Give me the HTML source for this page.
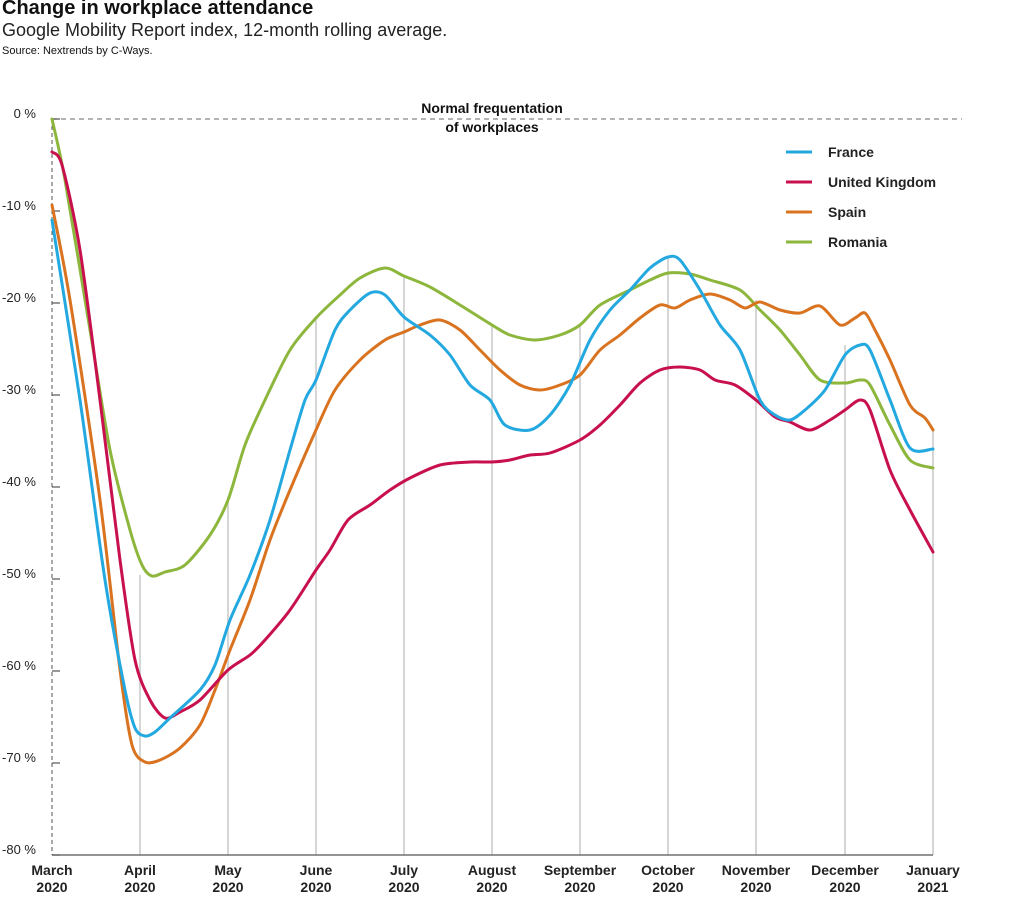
<!DOCTYPE html>
<html><head><meta charset="utf-8"><style>
body{margin:0;background:#fff;width:1020px;height:908px;overflow:hidden;font-family:"Liberation Sans",sans-serif;}
.t{position:absolute;left:2px;white-space:nowrap;color:#111}
</style></head><body>
<div class="t" style="top:-3px;font-size:20px;font-weight:bold;">Change in workplace attendance</div>
<div class="t" style="top:20px;font-size:18px;color:#222">Google Mobility Report index, 12-month rolling average.</div>
<div class="t" style="top:45px;font-size:11px;">Source: Nextrends by C-Ways.</div>
<svg id="s" width="1020" height="908" style="position:absolute;left:0;top:0" font-family="Liberation Sans, sans-serif"></svg>
<script>
const s=document.getElementById('s');let h='';
const ns=(v)=>119+v*92;
const mx=[52,140,228,316,404,492,580,668,756,845,933];
const tops=[119,575,500,318,276,325,325,257,300,345,430];
for(let i=1;i<mx.length;i++)h+=`<line x1="${mx[i]}" y1="855" x2="${mx[i]}" y2="${tops[i]}" stroke="#d6d6d6" stroke-width="2"/>`;
h+=`<line x1="52" y1="119" x2="962" y2="119" stroke="#888" stroke-width="1.2" stroke-dasharray="5,4"/>`;
h+=`<line x1="52" y1="119" x2="52" y2="855" stroke="#555" stroke-width="1" stroke-dasharray="4,3"/>`;
h+=`<line x1="52" y1="855" x2="933" y2="855" stroke="#555" stroke-width="1.3"/>`;
for(let i=0;i<=8;i++){const y=ns(i);h+=`<line x1="52" y1="${y}" x2="60" y2="${y}" stroke="#333"/>`;
h+=`<text x="36" y="${y-1}" font-size="13" text-anchor="end" fill="#222">${i?'-'+i*10:'0'} %</text>`;}
const ml=['March','April','May','June','July','August','September','October','November','December','January'];
ml.forEach((m,i)=>{h+=`<text x="${mx[i]}" y="875" font-size="14" font-weight="bold" text-anchor="middle" fill="#222">${m}</text><text x="${mx[i]}" y="892" font-size="14" font-weight="bold" text-anchor="middle" fill="#222">${i==10?2021:2020}</text>`});
h+=`<text x="492" y="113" font-size="14" font-weight="bold" text-anchor="middle" fill="#111">Normal frequentation</text><text x="492" y="132" font-size="14" font-weight="bold" text-anchor="middle" fill="#111">of workplaces</text>`;
function cr(p){const k=7;let d=`M${p[0][0]},${p[0][1]}`;for(let i=0;i<p.length-1;i++){const a=p[i-1]||p[i],b=p[i],c=p[i+1],e=p[i+2]||c;
d+=`C${b[0]+(c[0]-a[0])/k},${b[1]+(c[1]-a[1])/k} ${c[0]-(e[0]-b[0])/k},${c[1]-(e[1]-b[1])/k} ${c[0]},${c[1]}`;}return d;}
const P=a=>{const r=[];for(let i=0;i<a.length;i+=2)r.push([a[i],a[i+1]]);return r;};
const ser=[
['#8cb63c',[52,119,65,180,90,330,110,450,130,530,142,565,152,576,165,572,185,565,210,535,228,500,245,445,265,400,290,350,316,318,340,295,360,278,385,268,404,276,430,287,460,305,492,325,510,335,535,340,560,335,580,325,600,305,630,290,650,280,668,273,690,274,710,280,740,290,760,310,780,330,800,355,820,380,845,383,860,380,870,385,890,425,910,460,933,468]],
['#d97320',[52,205,70,300,100,500,120,670,132,745,145,762,160,760,180,748,200,725,215,690,230,650,250,600,270,540,290,490,316,430,335,390,360,360,385,340,404,332,420,325,440,320,460,330,480,350,500,370,520,385,540,390,560,385,580,375,600,350,620,335,640,318,660,305,675,308,690,300,710,294,730,300,745,308,760,302,780,310,800,313,820,306,840,325,855,318,865,313,875,330,890,360,910,405,925,418,933,430]],
['#c8104e',[52,152,62,165,80,250,100,400,120,560,135,660,150,700,165,718,180,712,200,700,228,670,250,655,265,640,290,610,316,570,330,550,348,520,370,505,390,490,410,478,440,465,470,462,492,462,510,460,530,455,550,453,580,440,600,425,620,405,640,383,660,370,680,367,700,370,715,380,735,385,756,400,775,417,790,422,810,430,830,420,845,410,860,400,870,410,890,470,910,510,933,552]],
['#23a8e0',[52,220,80,400,105,580,125,690,135,728,145,736,155,732,170,718,200,690,215,665,230,620,250,575,270,520,290,450,305,400,316,380,335,330,350,310,370,293,385,295,404,317,430,335,450,355,470,385,490,400,505,425,530,430,550,415,570,385,590,340,610,310,630,290,650,268,668,257,680,260,700,290,720,325,740,350,760,400,775,415,790,420,805,410,825,390,845,355,860,345,870,350,890,400,910,448,933,449]]];
ser.forEach(([c,a])=>h+=`<path d="${cr(P(a))}" fill="none" stroke="${c}" stroke-width="3" stroke-linejoin="round" stroke-linecap="round"/>`);
[['France','#23a8e0'],['United Kingdom','#c8104e'],['Spain','#d97320'],['Romania','#8cb63c']].forEach(([n,c],i)=>{const y=152+i*30;
h+=`<line x1="786" y1="${y}" x2="812" y2="${y}" stroke="${c}" stroke-width="3"/><text x="828" y="${y+5}" font-size="14" font-weight="bold" fill="#222">${n}</text>`});
s.innerHTML=h;
</script>
</body></html>
